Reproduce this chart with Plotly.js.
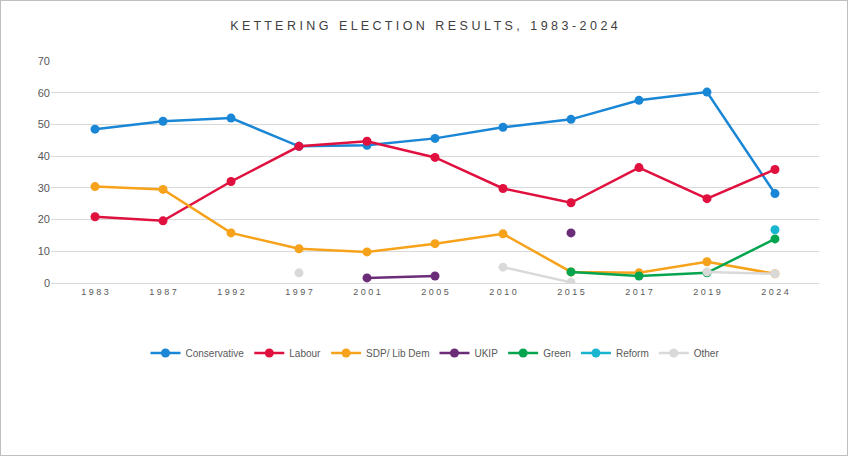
<!DOCTYPE html>
<html>
<head>
<meta charset="utf-8">
<script src="https://cdn.plot.ly/plotly-3.0.1.min.js"></script>
<style>
body { margin: 0; }
#chart { width: 846px; height: 454px; border: 1px solid #bfbfbf; }
</style>
</head>
<body>
<div id="chart"></div>
<script>
const years = ["1983", "1987", "1992", "1997", "2001", "2005", "2010", "2015", "2017", "2019", "2024"];
const yearLabels = ["1 9 8 3", "1 9 8 7", "1 9 9 2", "1 9 9 7", "2 0 0 1", "2 0 0 5", "2 0 1 0", "2 0 1 5", "2 0 1 7", "2 0 1 9", "2 0 2 4"];
const conservative = [48.5, 51.0, 52.0, 43.1, 43.4, 45.6, 49.1, 51.6, 57.6, 60.2, 28.2];
const labour = [20.9, 19.6, 32.0, 43.1, 44.7, 39.6, 29.8, 25.3, 36.4, 26.6, 35.8];
const libdem = [30.4, 29.5, 15.8, 10.8, 9.8, 12.4, 15.5, 3.5, 3.2, 6.7, 2.9];
const ukip = [null, null, null, null, 1.6, 2.2, null, 15.8, null, null, null];
const green = [null, null, null, null, null, null, null, 3.5, 2.2, 3.2, 13.9];
const reform = [null, null, null, null, null, null, null, null, null, null, 16.8];
const other = [null, null, null, 3.2, null, null, 5.0, 0.2, null, 3.5, 2.9];

const series = [
    ["Conservative", conservative, "#1a86d6"],
    ["Labour", labour, "#e0103f"],
    ["SDP/ Lib Dem", libdem, "#f7a21b"],
    ["UKIP", ukip, "#6b2c78"],
    ["Green", green, "#05a54f"],
    ["Reform", reform, "#19b5d0"],
    ["Other", other, "#d9d9d9"],
];

const traces = series.map(([name, y, color]) => ({
    x: years,
    y: y,
    name: name,
    type: "scatter",
    mode: "lines+markers",
    line: { color: color, width: 2.5 },
    marker: { color: color, size: 9 },
}));

Plotly.newPlot("chart", traces, {
    width: 846,
    height: 454,
    margin: { l: 50, r: 28, t: 60, b: 172 },
    title: {
        text: "K E T T E R I N G   E L E C T I O N   R E S U L T S ,   1 9 8 3 - 2 0 2 4",
        font: { family: "Liberation Sans, Arial", size: 12.5, color: "#404040" },
        x: 0.5, y: 0.955,
    },
    xaxis: {
        type: "category",
        tickvals: years,
        ticktext: yearLabels,
        showgrid: false,
        showline: true,
        linecolor: "#d9d9d9",
        tickfont: { size: 9, color: "#595959" },
    },
    yaxis: {
        range: [0, 70],
        dtick: 10,
        gridcolor: "#d9d9d9",
        zeroline: false,
        tickfont: { size: 11, color: "#595959" },
    },
    legend: {
        orientation: "h",
        x: 0.5, xanchor: "center",
        y: -0.25, yanchor: "top",
        font: { size: 10, color: "#595959" },
    },
    showlegend: true,
    plot_bgcolor: "white",
    paper_bgcolor: "white",
    font: { family: "Liberation Sans, Arial" },
}, { displayModeBar: false });
</script>
</body>
</html>
